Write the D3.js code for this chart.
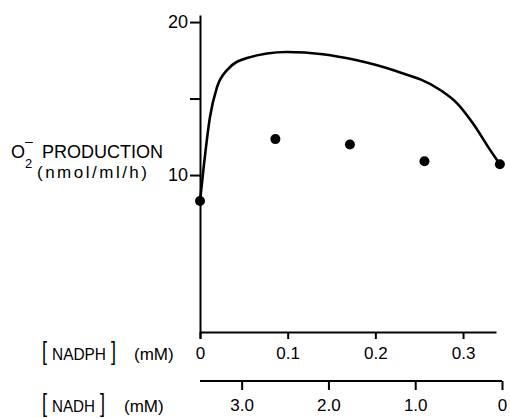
<!DOCTYPE html>
<html><head><meta charset="utf-8">
<script src="https://cdn.jsdelivr.net/npm/d3@7"></script>
<style>
body{margin:0;background:#fff;}
svg{display:block;font-family:"Liberation Sans",Arial,sans-serif;}
</style></head>
<body><svg id="c" width="510" height="418"></svg>
<script>
// Data
const pointNadph = [0, 0.086, 0.171, 0.256, 0.342];
const pointValues = [8.3, 12.35, 12.0, 10.9, 10.7];
const curveNadph = [0, 0.0034, 0.0114, 0.0194, 0.0308, 0.0536, 0.099, 0.140, 0.179, 0.220, 0.274, 0.293, 0.311, 0.331, 0.342];
const curveValues = [8.3, 10.1, 13.8, 15.75, 16.86, 17.65, 18.04, 17.9, 17.5, 16.86, 15.56, 14.7, 13.4, 11.63, 10.7];
const yTicks = [10, 15, 20];
const yTickLabels = {10: "10", 20: "20"};
const nadphTicks = [0, 0.1, 0.2, 0.3];
const nadphTickLabels = ["0", "0.1", "0.2", "0.3"];
const nadhTicks = [3, 2, 1, 0];
const nadhTickLabels = ["3.0", "2.0", "1.0", "0"];

const svg = d3.select("#c");
const y = d3.scaleLinear().domain([-0.65, 20.46]).range([338, 15]);
const x = d3.scaleLinear().domain([0, 0.3376]).range([200, 496]);
const xh = d3.scaleLinear().domain([3.48, 0]).range([200, 502]);

function styleAxis(g, fs){
  g.selectAll("path.domain").attr("stroke", "#000").attr("stroke-width", 2);
  g.selectAll(".tick line").attr("stroke", "#000").attr("stroke-width", 2);
  g.selectAll(".tick text").attr("fill", "#000").attr("font-size", fs).attr("font-family", '"Liberation Sans",Arial,sans-serif');
}

// Y axis
const gy = svg.append("g").attr("transform", "translate(200,0)")
  .call(d3.axisLeft(y).tickValues(yTicks).tickSize(10).tickSizeOuter(0).tickPadding(2)
    .tickFormat(d => yTickLabels[d] || ""));
styleAxis(gy, 18);

// NADPH axis
const gx = svg.append("g").attr("transform", `translate(0,${y(-0.26)})`)
  .call(d3.axisBottom(x).tickValues(nadphTicks).tickSize(7).tickSizeOuter(0).tickPadding(8)
    .tickFormat((d, i) => nadphTickLabels[i]));
styleAxis(gx, 17);

// NADH axis
const gh = svg.append("g").attr("transform", "translate(0,381)")
  .call(d3.axisBottom(xh).tickValues(nadhTicks).tickSize(9).tickSizeOuter(0).tickPadding(9)
    .tickFormat((d, i) => nadhTickLabels[i]));
styleAxis(gh, 17);
gh.select("path.domain").attr("d", `M${xh(3.48)},0H${xh(0)}`);

// Curve
const line = d3.line().x(d => x(d[0])).y(d => y(d[1])).curve(d3.curveMonotoneX);
svg.append("path").datum(curveNadph.map((v, i) => [v, curveValues[i]]))
  .attr("d", line).attr("fill", "none").attr("stroke", "#000").attr("stroke-width", 2.6);

// Points
svg.selectAll("circle.pt").data(pointNadph).join("circle").attr("class", "pt")
  .attr("cx", d => x(d)).attr("cy", (d, i) => y(pointValues[i])).attr("r", 5).attr("fill", "#000");

// Y label
const yl = svg.append("g").attr("fill", "#000");
yl.append("text").attr("x", 11).attr("y", 158).attr("font-size", 18).text("O");
yl.append("text").attr("x", 25).attr("y", 168).attr("font-size", 13).text("2");
yl.append("text").attr("x", 25).attr("y", 146).attr("font-size", 14).text("\u2013");
yl.append("text").attr("x", 42).attr("y", 158).attr("font-size", 18)
  .attr("textLength", 121).attr("lengthAdjust", "spacingAndGlyphs").text("PRODUCTION");
yl.append("text").attr("x", 37).attr("y", 178).attr("font-size", 17)
  .attr("textLength", 110).attr("lengthAdjust", "spacing").text("(nmol/ml/h)");

// X labels
function bracketLabel(yc, name, nameW, closeX, unitX){
  const g = svg.append("g").attr("fill", "#000");
  g.append("text").attr("transform", `translate(42,${yc + 6.5}) scale(1,1.4)`).attr("font-size", 18).text("[");
  g.append("text").attr("x", 52).attr("y", yc + 6.5).attr("font-size", 17)
    .attr("textLength", nameW).attr("lengthAdjust", "spacingAndGlyphs").text(name);
  g.append("text").attr("transform", `translate(${closeX},${yc + 6.5}) scale(1,1.4)`).attr("font-size", 18).text("]");
  g.append("text").attr("x", unitX).attr("y", yc + 6.5).attr("font-size", 17).text("(mM)");
}
bracketLabel(353, "NADPH", 54, 111, 134);
bracketLabel(405, "NADH", 43, 100, 124);
</script></body></html>
